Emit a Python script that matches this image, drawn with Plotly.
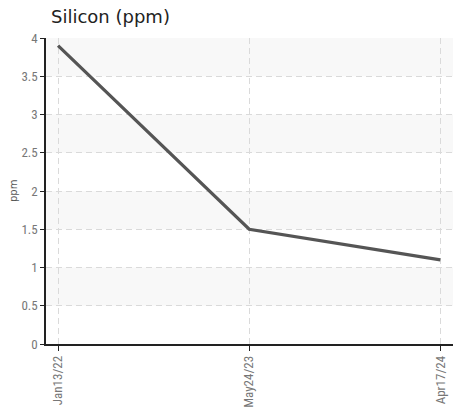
import plotly.graph_objects as go

categories = ["Jan13/22", "May24/23", "Apr17/24"]
values = [3.9, 1.5, 1.1]
y_ticks = [0, 0.5, 1, 1.5, 2, 2.5, 3, 3.5, 4]
y_tick_labels = ["0", "0.5", "1", "1.5", "2", "2.5", "3", "3.5", "4"]

fig = go.Figure()
fig.add_trace(go.Scatter(
    x=list(range(len(categories))), y=values, mode="lines",
    line=dict(color="#555555", width=3.2), hoverinfo="skip", showlegend=False,
))

# alternating bands
for i in range(len(y_ticks) - 1):
    if i % 2 == 1:
        fig.add_shape(type="rect", xref="paper", yref="y", x0=0, x1=1,
                      y0=y_ticks[i], y1=y_ticks[i + 1],
                      fillcolor="#f8f8f8", line=dict(width=0), layer="below")

tick_font = dict(family="Liberation Sans Narrow, Roboto Condensed, Roboto, sans-serif", size=13, color="#777777")

fig.add_annotation(text="ppm", xref="paper", yref="paper", x=0, y=0.5, xshift=-33,
                   xanchor="center", yanchor="middle", textangle=-90, showarrow=False,
                   font=dict(family="DejaVu Sans, Verdana, sans-serif", size=10, color="#555555"))

fig.update_layout(
    width=461, height=410,
    margin=dict(l=46, r=8, t=38, b=66),
    paper_bgcolor="white", plot_bgcolor="white",
    title=dict(text="Silicon (ppm)", x=0, xref="paper", xanchor="left",
               y=1, yref="container", yanchor="top", pad=dict(t=10, l=5),
               font=dict(family="DejaVu Sans, Verdana, sans-serif", size=18, color="#222222")),
    xaxis=dict(
        range=[-0.063, 2.066], tickmode="array", tickvals=list(range(len(categories))),
        ticktext=categories, tickangle=-90, tickfont=tick_font, automargin=False,
        showgrid=True, gridcolor="#dadada", griddash="6px,4px", gridwidth=1,
        showline=True, linecolor="#222222", linewidth=1.5,
        ticks="outside", ticklen=5, tickcolor="#222222", zeroline=False,
    ),
    yaxis=dict(
        range=[0, 4], tickmode="array", tickvals=y_ticks, ticktext=y_tick_labels,
        tickfont=tick_font, automargin=False,
        showgrid=True, gridcolor="#dadada", griddash="6px,4px", gridwidth=1,
        showline=True, linecolor="#222222", linewidth=1.5,
        ticks="outside", ticklen=4, tickcolor="#222222", zeroline=False,
    ),
)

fig.write_html("out.html", config={"displayModeBar": False},
               post_script="document.body.style.margin='0';document.body.style.overflow='hidden';")
